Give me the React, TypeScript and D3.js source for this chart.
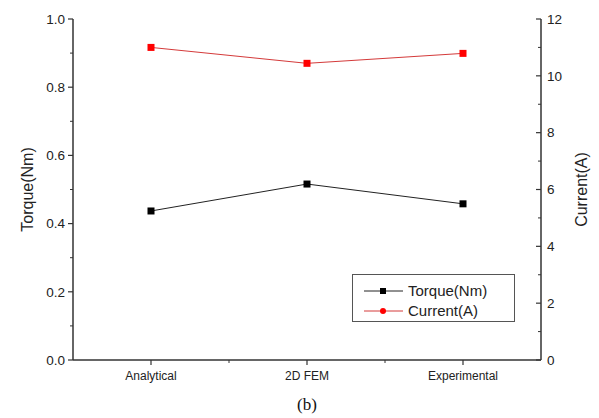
import React from 'react';
import * as d3 from 'd3';

const categories = ['Analytical', '2D FEM', 'Experimental'];
const torque = [0.437, 0.516, 0.458];
const current = [11.0, 10.44, 10.79];
const torqueTicks = [0, 0.2, 0.4, 0.6, 0.8, 1.0];
const currentTicks = [0, 2, 4, 6, 8, 10, 12];

const App = () => {
  const width = 599;
  const height = 418;
  const left = 73;
  const right = 541;
  const top = 19;
  const bottom = 360;

  const x = d3.scaleLinear().domain([0.5, 3.5]).range([left, right]);
  const yT = d3.scaleLinear().domain([0, 1]).range([bottom, top]);
  const yC = d3.scaleLinear().domain([0, 12]).range([bottom, top]);

  const lineT = d3.line<number>().x((d, i) => x(i + 1)).y(d => yT(d));
  const lineC = d3.line<number>().x((d, i) => x(i + 1)).y(d => yC(d));

  const axisColor = '#333';
  const font = 'Arial, "Liberation Sans", sans-serif';
  const minorT = d3.range(0.1, 1, 0.2);
  const minorC = d3.range(1, 12, 2);

  return (
    <svg width={width} height={height} style={{ position: 'absolute', left: 0, top: 0, background: '#fff' }}>
      <rect width={width} height={height} fill="#fff" />
      {/* axes */}
      <line x1={left} x2={left} y1={top} y2={bottom} stroke={axisColor} strokeWidth={1.5} />
      <line x1={right} x2={right} y1={top} y2={bottom} stroke={axisColor} strokeWidth={1.5} />
      <line x1={left} x2={right} y1={bottom} y2={bottom} stroke={axisColor} strokeWidth={1.5} />

      {torqueTicks.map(t => (
        <g key={'t' + t}>
          <line x1={left - 5} x2={left} y1={yT(t)} y2={yT(t)} stroke={axisColor} strokeWidth={1.2} />
          <text x={left - 8} y={yT(t)} dy="0.35em" textAnchor="end" fontSize={13.5} fontFamily={font} fill="#222">
            {d3.format('.1f')(t)}
          </text>
        </g>
      ))}
      {minorT.map(t => (
        <line key={'mt' + t} x1={left - 3} x2={left} y1={yT(t)} y2={yT(t)} stroke={axisColor} strokeWidth={1} />
      ))}

      {currentTicks.map(t => (
        <g key={'c' + t}>
          <line x1={right - 5} x2={right} y1={yC(t)} y2={yC(t)} stroke={axisColor} strokeWidth={1.2} />
          <text x={right + 6} y={yC(t)} dy="0.35em" textAnchor="start" fontSize={13.5} fontFamily={font} fill="#222">
            {t}
          </text>
        </g>
      ))}
      {minorC.map(t => (
        <line key={'mc' + t} x1={right - 3} x2={right} y1={yC(t)} y2={yC(t)} stroke={axisColor} strokeWidth={1} />
      ))}

      {categories.map((c, i) => (
        <g key={c}>
          <line x1={x(i + 1)} x2={x(i + 1)} y1={bottom} y2={bottom + 5} stroke={axisColor} strokeWidth={1.2} />
          <text x={x(i + 1)} y={bottom + 20} textAnchor="middle" fontSize={12} fontFamily={font} fill="#222">
            {c}
          </text>
        </g>
      ))}
      {[1.5, 2.5].map(v => (
        <line key={'mx' + v} x1={x(v)} x2={x(v)} y1={bottom} y2={bottom + 3} stroke={axisColor} strokeWidth={1} />
      ))}

      {/* titles */}
      <text transform={`translate(33,${(top + bottom) / 2}) rotate(-90)`} textAnchor="middle" fontSize={16} fontFamily={font} fill="#222">
        Torque(Nm)
      </text>
      <text transform={`translate(587,${(top + bottom) / 2}) rotate(-90)`} textAnchor="middle" fontSize={16} fontFamily={font} fill="#222">
        Current(A)
      </text>
      <text x={x(2)} y={410} textAnchor="middle" fontSize={17} fontFamily='"Liberation Serif", "Times New Roman", serif' fill="#111">
        (b)
      </text>

      {/* series */}
      <path d={lineT(torque) || ''} fill="none" stroke="#222" strokeWidth={1} />
      <path d={lineC(current) || ''} fill="none" stroke="#d43a3a" strokeWidth={1} />
      {torque.map((v, i) => (
        <rect key={'pt' + i} x={x(i + 1) - 3.5} y={yT(v) - 3.5} width={7} height={7} fill="#000" />
      ))}
      {current.map((v, i) => (
        <rect key={'pc' + i} x={x(i + 1) - 3.5} y={yC(v) - 3.5} width={7} height={7} fill="#f00" />
      ))}

      {/* legend */}
      <rect x={352.5} y={274.5} width={162} height={47} fill="#fff" stroke="#555" strokeWidth={1} />
      <line x1={364} x2={403} y1={291} y2={291} stroke="#222" strokeWidth={1} />
      <rect x={380} y={288} width={6} height={6} fill="#000" />
      <text x={408} y={291} dy="0.35em" fontSize={15} fontFamily={font} fill="#222">Torque(Nm)</text>
      <line x1={364} x2={403} y1={311} y2={311} stroke="#d43a3a" strokeWidth={1} />
      <circle cx={383} cy={311} r={3} fill="#f00" />
      <text x={408} y={311} dy="0.35em" fontSize={15} fontFamily={font} fill="#222">Current(A)</text>
    </svg>
  );
};

export default App;
